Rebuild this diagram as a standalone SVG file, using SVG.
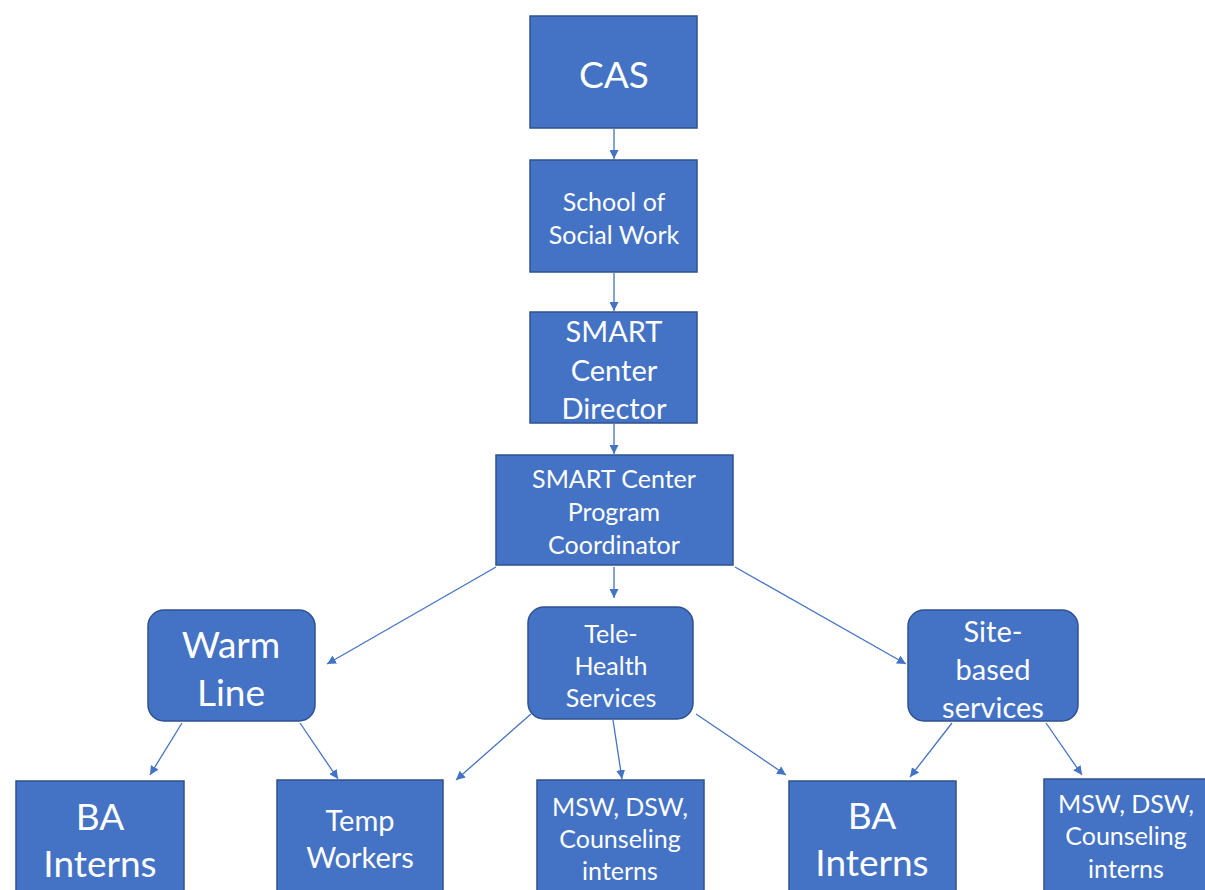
<svg xmlns="http://www.w3.org/2000/svg" width="1205" height="890" viewBox="0 0 1205 890">
<style>
.box{fill:#4472C4;stroke:#2F528F;stroke-width:1.5}
.t{fill:#fff;font-family:Lato,"Open Sans","Liberation Sans",sans-serif;text-anchor:middle;dominant-baseline:central}
.b{font-size:37px}
.m{font-size:29px}
.s{font-size:25px}
.c{stroke:#4472C4;stroke-width:1.3;fill:none;marker-end:url(#ah)}
</style>
<defs>
<marker id="ah" viewBox="0 0 10 10" refX="10" refY="5" markerWidth="9" markerHeight="9" markerUnits="userSpaceOnUse" orient="auto">
<path d="M0,0 L10,5 L0,10 z" fill="#4472C4"/>
</marker>
</defs>
<rect width="1205" height="890" fill="#fff"/>
<g id="connectors">
<line class="c" x1="614" y1="129" x2="614" y2="159"/>
<line class="c" x1="614" y1="273" x2="614" y2="311"/>
<line class="c" x1="614" y1="424" x2="614" y2="454"/>
<line class="c" x1="496" y1="567" x2="327" y2="664"/>
<line class="c" x1="614" y1="567" x2="614" y2="598"/>
<line class="c" x1="735" y1="567" x2="906" y2="664"/>
<line class="c" x1="182" y1="723" x2="150" y2="775"/>
<line class="c" x1="300" y1="723" x2="338" y2="779"/>
<line class="c" x1="531" y1="714" x2="456" y2="780"/>
<line class="c" x1="613" y1="720" x2="622" y2="779"/>
<line class="c" x1="696" y1="714" x2="786" y2="775"/>
<line class="c" x1="952" y1="723" x2="910" y2="777"/>
<line class="c" x1="1046" y1="723" x2="1082" y2="775"/>
</g>
<g id="cas">
<rect class="box" x="530" y="16" width="167" height="112"/>
<text class="t b" x="614" y="73">CAS</text>
</g>
<g id="school">
<rect class="box" x="530" y="160" width="167" height="112"/>
<text class="t s" x="614" y="201">School of</text>
<text class="t s" x="614" y="234">Social Work</text>
</g>
<g id="director">
<rect class="box" x="530" y="312" width="167" height="111"/>
<text class="t m" x="614" y="330">SMART</text>
<text class="t m" x="614" y="369">Center</text>
<text class="t m" x="614" y="407">Director</text>
</g>
<g id="coordinator">
<rect class="box" x="496" y="455" width="237" height="110"/>
<text class="t s" x="614" y="478">SMART Center</text>
<text class="t s" x="614" y="511">Program</text>
<text class="t s" x="614" y="544">Coordinator</text>
</g>
<g id="warmline">
<rect class="box" x="148" y="610" width="167" height="111" rx="16"/>
<text class="t b" x="231" y="643">Warm</text>
<text class="t b" x="231" y="691">Line</text>
</g>
<g id="telehealth">
<rect class="box" x="528" y="607" width="165" height="112" rx="16"/>
<text class="t s" x="611" y="633">Tele-</text>
<text class="t s" x="611" y="665">Health</text>
<text class="t s" x="611" y="697">Services</text>
</g>
<g id="sitebased">
<rect class="box" x="908" y="610" width="170" height="111" rx="16"/>
<text class="t m" x="993" y="630">Site-</text>
<text class="t m" x="993" y="668">based</text>
<text class="t m" x="993" y="706">services</text>
</g>
<g id="ba1">
<rect class="box" x="16" y="781" width="168" height="115"/>
<text class="t b" x="100" y="815">BA</text>
<text class="t b" x="100" y="862">Interns</text>
</g>
<g id="temp">
<rect class="box" x="277" y="780" width="166" height="116"/>
<text class="t m" x="360" y="819">Temp</text>
<text class="t m" x="360" y="856">Workers</text>
</g>
<g id="msw1">
<rect class="box" x="537" y="780" width="167" height="116"/>
<text class="t s" x="620" y="806">MSW, DSW,</text>
<text class="t s" x="620" y="838">Counseling</text>
<text class="t s" x="620" y="870">interns</text>
</g>
<g id="ba2">
<rect class="box" x="789" y="781" width="167" height="115"/>
<text class="t b" x="872" y="814">BA</text>
<text class="t b" x="872" y="861">Interns</text>
</g>
<g id="msw2">
<rect class="box" x="1044" y="779" width="167" height="117"/>
<text class="t s" x="1126" y="803">MSW, DSW,</text>
<text class="t s" x="1126" y="835">Counseling</text>
<text class="t s" x="1126" y="868">interns</text>
</g>
</svg>
